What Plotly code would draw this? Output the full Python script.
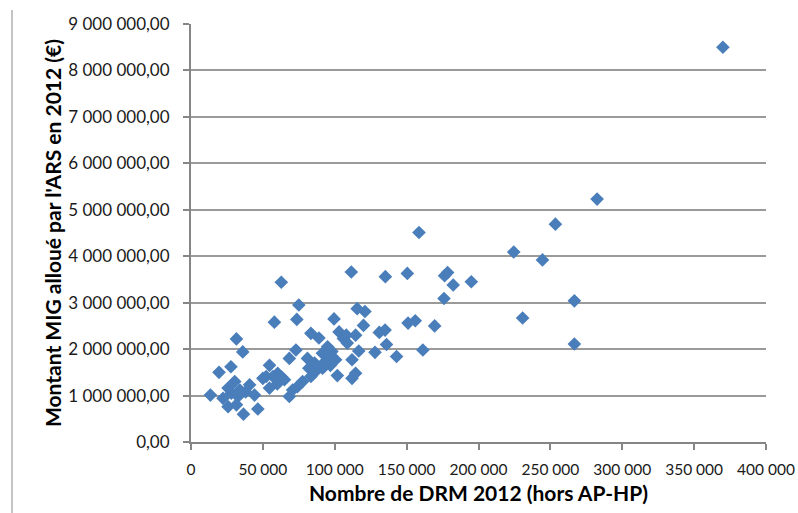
import plotly.graph_objects as go

# Nombre de DRM 2012 (hors AP-HP)
drm = [
    370000, 282500, 253500, 224500, 244500, 266700, 230700, 266700,
    158600, 111500, 62800, 135200, 150500, 176400, 178500, 182400, 195000,
    176000, 169500, 151000, 156000, 161300, 143000, 128000, 116700, 136000,
    131000, 135000, 120000, 114500, 115600, 121000, 99500, 103000, 106000,
    108700, 112000, 100600, 101800, 112000, 114500, 75000, 58000, 73600,
    83400, 89000, 73000, 68400, 81000, 91400, 96000, 91400, 82000, 83400,
    54600, 60300, 65000, 52300, 74000, 70700, 68400, 77600, 54600, 31600,
    36000, 19500, 27800, 50000, 30400, 40800, 25800, 13500, 22300, 32700,
    44200, 25800, 31600, 36500, 46500, 57000, 92600, 28000, 34000, 38000,
    60000, 63000, 86000, 95000, 97000, 86000, 95000, 98000, 93000, 108000,
]
# Montant MIG alloué par l'ARS en 2012 (€)
mig = [
    8500000, 5230000, 4690000, 4090000, 3920000, 3040000, 2670000, 2110000,
    4510000, 3660000, 3440000, 3560000, 3630000, 3580000, 3650000, 3380000, 3450000,
    3090000, 2500000, 2560000, 2610000, 1980000, 1840000, 1930000, 1960000, 2100000,
    2360000, 2410000, 2510000, 2300000, 2870000, 2810000, 2650000, 2370000, 2230000,
    2130000, 1770000, 1770000, 1430000, 1370000, 1480000, 2950000, 2580000, 2640000,
    2340000, 2240000, 1980000, 1800000, 1800000, 1910000, 1770000, 1590000, 1590000, 1410000,
    1650000, 1480000, 1340000, 1410000, 1190000, 1120000, 980000, 1300000, 1160000, 2220000,
    1940000, 1500000, 1620000, 1370000, 1300000, 1230000, 1160000, 1010000, 940000, 980000,
    1010000, 760000, 800000, 600000, 710000, 1410000, 1620000, 1050000, 1120000, 1080000,
    1250000, 1400000, 1700000, 1850000, 1650000, 1500000, 2050000, 1950000, 1720000, 2300000,
]

x_ticks = [0, 50000, 100000, 150000, 200000, 250000, 300000, 350000, 400000]
x_labels = ["0", "50 000", "100 000", "150 000", "200 000", "250 000",
            "300 000", "350 000", "400 000"]
y_ticks = [0, 1000000, 2000000, 3000000, 4000000, 5000000, 6000000,
           7000000, 8000000, 9000000]
y_labels = ["0,00", "1 000 000,00", "2 000 000,00", "3 000 000,00",
            "4 000 000,00", "5 000 000,00", "6 000 000,00", "7 000 000,00",
            "8 000 000,00", "9 000 000,00"]

FONT = "Lato"

fig = go.Figure(go.Scatter(
    x=drm, y=mig, mode="markers",
    marker=dict(symbol="diamond", size=10.5, color="#4A7EBB",
                line=dict(width=0)),
    hoverinfo="x+y",
))

L, T, R, B = 191, 24, 32, 71
fig.update_layout(
    width=798, height=513,
    margin=dict(l=L, r=R, t=T, b=B),
    paper_bgcolor="white", plot_bgcolor="white",
    showlegend=False,
    font=dict(family=FONT, size=15, color="#1a1a1a"),
)

fig.update_xaxes(
    range=[0, 400000], tickvals=x_ticks, ticktext=x_labels,
    showgrid=False, zeroline=False, automargin=False,
    showline=True, linecolor="#868686", linewidth=2,
    ticks="outside", ticklen=6, tickcolor="#868686", tickwidth=1.5,
    ticklabeloverflow="allow", ticklabelstandoff=6,
    tickfont=dict(family=FONT, size=15.5, color="#1a1a1a"),
    title=dict(text="<b>Nombre de DRM 2012 (hors AP-HP)</b>",
               font=dict(family=FONT, size=21, color="#000"), standoff=10),
)
fig.update_yaxes(
    range=[0, 9000000], tickvals=y_ticks, ticktext=y_labels,
    showgrid=True, gridcolor="#9a9a9a", gridwidth=1.5, zeroline=False,
    automargin=False,
    showline=True, linecolor="#868686", linewidth=2,
    ticks="outside", ticklen=6, tickcolor="#868686", tickwidth=1.5,
    ticklabeloverflow="allow", ticklabelstandoff=10,
    tickfont=dict(family=FONT, size=17, color="#1a1a1a"),
    title=dict(text="<b>Montant MIG alloué par l'ARS en 2012 (€)</b>",
               font=dict(family=FONT, size=21, color="#000"), standoff=1),
)

# chart frame edge on the left
pw = 798 - L - R
ph = 513 - T - B
fig.add_shape(type="line", xref="paper", yref="paper",
              x0=(12 - L) / pw, x1=(12 - L) / pw,
              y0=(ph + T - 513) / ph, y1=(ph + T - 10) / ph,
              line=dict(color="#b0b0b0", width=1.5))

fig.write_html("out.html",
               config={"displayModeBar": False},
               post_script="document.body.style.margin='0';"
                           "document.body.style.overflow='hidden';")
